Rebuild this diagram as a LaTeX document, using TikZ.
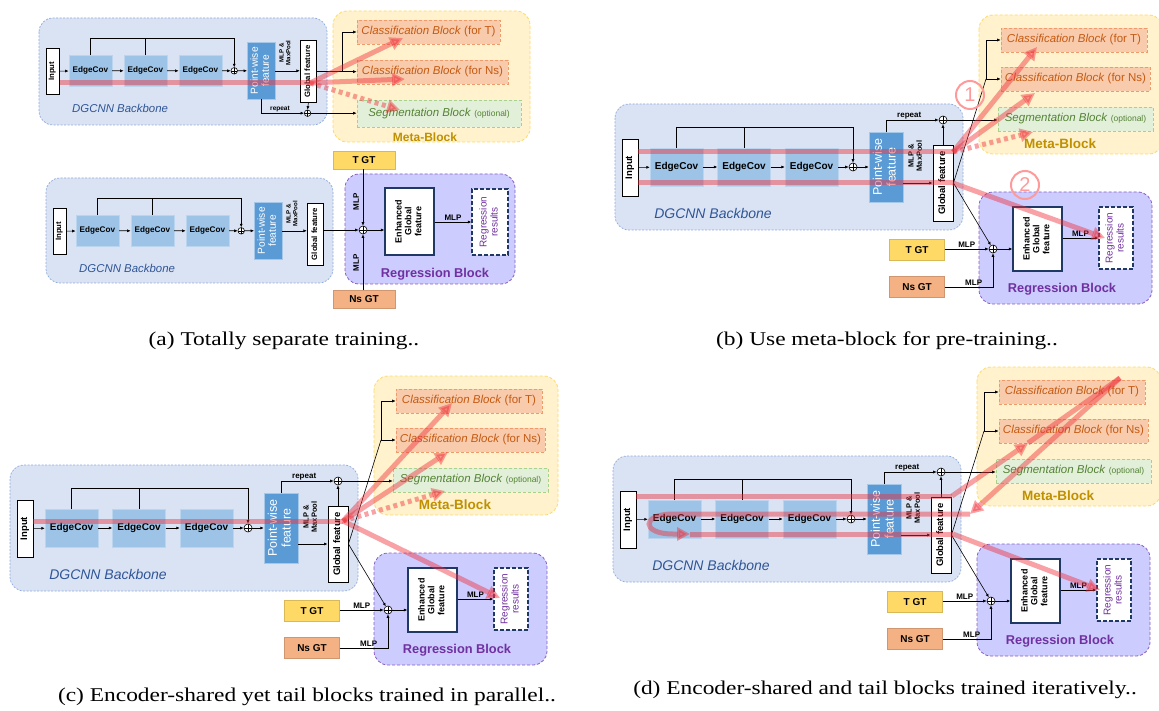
\documentclass[tikz,border=0pt]{standalone}
\usepackage{fontspec}
\setmainfont{Liberation Serif}
\setsansfont{Liberation Sans}
\usepackage{graphicx}
\usepackage{xcolor}
\definecolor{bbfill}{HTML}{DAE3F3}
\definecolor{bbline}{HTML}{8FAADC}
\definecolor{bbtext}{HTML}{2F5597}
\definecolor{ecfill}{HTML}{9DC3E6}
\definecolor{pwfill}{HTML}{5B9BD5}
\definecolor{metafill}{HTML}{FFF2CC}
\definecolor{metaline}{HTML}{FFD966}
\definecolor{metatext}{HTML}{BF9000}
\definecolor{cbfill}{HTML}{F8CBAD}
\definecolor{cbline}{HTML}{EE9A6A}
\definecolor{cbtext}{HTML}{C55A11}
\definecolor{segfill}{HTML}{E2F0D9}
\definecolor{segline}{HTML}{A9D18E}
\definecolor{segtext}{HTML}{548235}
\definecolor{regfill}{HTML}{CCCCFF}
\definecolor{regline}{HTML}{8A5CC4}
\definecolor{regtext}{HTML}{7030A0}
\definecolor{navy}{HTML}{1F3864}
\definecolor{tgtfill}{HTML}{FFD966}
\definecolor{ngtfill}{HTML}{F4B183}
\definecolor{flow}{HTML}{F0303A}
\definecolor{stepring}{HTML}{FF9A9A}
\usepackage{tikz}
\usetikzlibrary{positioning,arrows.meta,calc}
\newcommand{\fsz}[1]{\fontsize{#1}{#1}\selectfont}
\newcommand{\vtext}[1]{\rotatebox{90}{\renewcommand{\arraystretch}{1.1}\begin{tabular}{@{}c@{}}#1\end{tabular}}}
\tikzset{
  bbarea/.style  ={draw=bbline, fill=bbfill, dash pattern=on 2pt off 1.5pt, line width=0.7pt, rounded corners=14pt},
  metaarea/.style={draw=metaline, fill=metafill, dash pattern=on 3pt off 2pt, line width=0.8pt, rounded corners=14pt},
  regarea/.style ={draw=regline, fill=regfill, dash pattern=on 3pt off 2pt, line width=0.8pt, rounded corners=14pt},
  inbox/.style   ={draw=black, fill=white, line width=0.9pt, inner sep=0pt, minimum width=16pt,
                   minimum height=57pt, font=\sffamily\bfseries\fsz{9.5}},
  ecbox/.style   ={fill=ecfill, draw=ecfill!70!white, inner sep=0pt, minimum width=53pt,
                   minimum height=38pt, font=\sffamily\bfseries\fsz{10}},
  pwbox/.style   ={fill=pwfill, draw=pwfill!55!white, inner sep=0pt, minimum width=34pt,
                   minimum height=70pt, text=white, font=\sffamily\fsz{12.5}},
  gfbox/.style   ={draw=black, fill=white, line width=0.9pt, inner sep=0pt, minimum width=20pt,
                   minimum height=76pt, font=\sffamily\bfseries\fsz{9.5}},
  sumnode/.style ={circle, draw=black, fill=white, line width=0.6pt, inner sep=0pt, minimum size=8pt,
                   path picture={\draw[line width=0.6pt] (path picture bounding box.north) -- (path picture bounding box.south)
                   (path picture bounding box.west) -- (path picture bounding box.east);}},
  cbbox/.style   ={draw=cbline, fill=cbfill, dash pattern=on 3pt off 2pt, line width=0.6pt, inner sep=0pt,
                   minimum height=24pt, text=cbtext, font=\sffamily\fsz{11.5}},
  segbox/.style  ={draw=segline, fill=segfill, dash pattern=on 3pt off 2pt, line width=0.6pt, inner sep=0pt,
                   minimum height=24pt, text=segtext, font=\sffamily\fsz{11.5}},
  egfbox/.style  ={draw=navy, fill=white, line width=1.3pt, inner sep=0pt, minimum width=49pt,
                   minimum height=64pt, font=\sffamily\bfseries\fsz{9}},
  rrbox/.style   ={draw=navy, fill=white, line width=1.3pt, dash pattern=on 4pt off 2pt, inner sep=0pt,
                   minimum width=34pt, minimum height=62pt, text=regtext, font=\sffamily\fsz{10}},
  tgtbox/.style  ={fill=tgtfill, draw=tgtfill!85!black, line width=0.4pt, inner sep=0pt, minimum width=55pt,
                   minimum height=21pt, font=\sffamily\bfseries\fsz{10}},
  ngtbox/.style  ={tgtbox, fill=ngtfill, draw=ngtfill!85!black},
  arr/.style     ={-{Latex[length=3.5pt,width=3pt]}, line width=0.6pt},
  wire/.style    ={line width=0.6pt},
  lbl/.style     ={font=\sffamily\bfseries\fsz{8}, inner sep=1pt},
  poollbl/.style ={font=\sffamily\bfseries\fsz{7.5}, inner sep=0pt},
  bblbl/.style   ={text=bbtext, font=\sffamily\itshape\fsz{14}},
  metalbl/.style ={text=metatext, font=\sffamily\bfseries\fsz{13.5}},
  reglbl/.style  ={text=regtext, font=\sffamily\bfseries\fsz{12.8}},
  flowline/.style={draw=flow, opacity=0.45, line width=5pt},
  flowarr/.style ={flowline, -{Triangle[length=13pt,width=13pt]}},
  flowdot/.style ={flowarr, dash pattern=on 4pt off 3.5pt},
  stepmark/.style={circle, draw=stepring, line width=2pt, text=stepring, minimum size=28pt, inner sep=0pt,
                   font=\sffamily\fsz{20}},
  subcap/.style  ={font=\rmfamily\fsz{19.5}, xscale=1.2},
}
\newcommand{\backbone}[1]{
  \node[inbox] (#1in) at (25,528.5) {\vtext{Input}};
  \node[ecbox] (#1ec1) at (71.5,528) {EdgeCov};
  \node[ecbox] (#1ec2) at (139,528) {EdgeCov};
  \node[ecbox] (#1ec3) at (206.5,528) {EdgeCov};
  \node[sumnode] (#1sum) at (248,528) {};
  \node[pwbox] (#1pw) at (281,528) {\vtext{Point-wise\\feature}};
  \coordinate (#1skip) at (248,488);
  \draw[arr] (#1in) -- (#1ec1);
  \draw[arr] (#1ec1) -- (#1ec2);
  \draw[arr] (#1ec2) -- (#1ec3);
  \draw[arr] (#1ec3) -- (#1sum);
  \draw[arr] (#1sum) -- (#1pw);
  \draw[wire] (#1ec1.north) |- (#1skip);
  \draw[wire] (#1ec2.north) -- (#1ec2.north |- #1skip);
  \draw[arr] (#1skip) -- (#1sum.north);
  \node[bblbl] (#1bbname) at (108,574) {DGCNN Backbone};
}
\newcommand{\fullpanel}[1]{
  \draw[bbarea] (10,465) rectangle (358,591);
  \draw[metaarea] (374,376) rectangle (558,515);
  \draw[regarea] (374,553) rectangle (547,665);
  \backbone{#1}
  \node[gfbox] (#1gf) at (338,544) {\vtext{Global feature}};
  \draw[arr] (#1pw.east |- #1gf.west) -- (#1gf.west);
  \node[poollbl] (#1pool) at (311,517) {\vtext{MLP \&\\MaxPool}};
  \node[sumnode] (#1rep) at (338,481) {};
  \draw[arr] (#1gf.north) -- (#1rep.south);
  \draw[arr] (#1pw.north) |- (#1rep.west) node[lbl, pos=0.72, above] (#1replbl) {repeat};
  \node[cbbox, minimum width=146pt] (#1cbt) at (469,401) {\textit{Classification Block} (for T)};
  \node[cbbox, minimum width=149pt] (#1cbn) at (470.5,440) {\textit{Classification Block} (for Ns)};
  \node[segbox, minimum width=155pt] (#1seg) at (470.5,480) {\textit{Segmentation Block} {\fsz{8.5}(optional)}};
  \node[metalbl] (#1metalbl) at (455,505) {Meta-Block};
  \draw[arr] (#1rep.east) -- (#1rep -| #1seg.west);
  \coordinate (#1fork) at (381,440);
  \draw[wire] (#1gf.east) -- (#1fork);
  \draw[arr] (#1fork) -- (#1cbn.west);
  \draw[arr] (#1fork) |- (#1cbt.west);
  \node[sumnode] (#1add) at (388,610) {};
  \node[tgtbox] (#1tgt) at (312,611) {T GT};
  \node[ngtbox] (#1ngt) at (312,648) {Ns GT};
  \node[egfbox] (#1egf) at (432.5,600) {\vtext{Enhanced\\Global\\feature}};
  \node[rrbox] (#1rr) at (511,599) {\vtext{Regression\\results}};
  \draw[arr] (#1gf.east) -- (#1add);
  \draw[arr] (#1tgt.east |- #1add) -- (#1add.west) node[lbl, midway, above] (#1mlp1) {MLP};
  \draw[arr] (#1ngt.east) -| (#1add.south) node[lbl, pos=0.3, above] (#1mlp2) {MLP};
  \draw[arr] (#1add.east) -- (#1add -| #1egf.west);
  \draw[arr] (#1egf.east |- #1rr.west) -- (#1rr.west) node[lbl, midway, above] (#1mlp3) {MLP};
  \node[reglbl] (#1reglbl) at (457,650) {Regression Block};
}

\begin{document}
\begin{tikzpicture}[x=1pt, y=-1pt]
  \useasboundingbox (0,0) rectangle (1159,711);

  % (a) top
  \draw[bbarea] (39,18) rectangle (327,125);
  \draw[metaarea] (333,11) rectangle (530,142);
  \begin{scope}[shift={(32.1,-359.5)}, scale=0.815, transform shape]
    \backbone{a1}
    \node[gfbox] (a1gf) at (339,529) {\vtext{Global feature}};
    \draw[arr] (a1pw.east) -- (a1pw.east -| a1gf.west);
    \node[poollbl] (a1pool) at (311,506) {\vtext{MLP \&\\MaxPool}};
    \node[sumnode] (a1rep) at (338,580) {};
    \draw[arr] (a1gf.south) -- (a1rep.north);
    \draw[arr] (a1pw.south) |- (a1rep.west) node[lbl, pos=0.72, above] (a1replbl) {repeat};
  \end{scope}
  \node[cbbox, minimum width=143pt] (a1cbt) at (428.5,32) {\textit{Classification Block} (for T)};
  \node[cbbox, minimum width=151pt] (a1cbn) at (432.5,72) {\textit{Classification Block} (for Ns)};
  \node[segbox, minimum width=164pt, minimum height=27pt] (a1seg) at (439,113.5) {\textit{Segmentation Block} {\fsz{8.5}(optional)}};
  \node[metalbl, font=\sffamily\bfseries\fsz{12}] (a1metalbl) at (425,137) {Meta-Block};
  \draw[arr] (a1rep.east) -- (a1rep -| a1seg.west);
  \draw[arr] (a1gf.east) -- (a1gf.east -| a1cbn.west);
  \draw[arr] (a1gf.east) ++(25,0) |- (a1cbt.west);
  \coordinate (a1r0) at (60,83);
  \coordinate (a1r1) at (310,83);
  \draw[flowline] (a1r0) -- (a1r1);
  \draw[flowarr] (a1r1) -- (403,38);
  \draw[flowarr] (a1r1) -- (405,79);
  \draw[flowdot] (a1r1) -- (400,110);

  % (a) bottom
  \draw[bbarea] (46,178) rectangle (333,283);
  \draw[regarea] (345,174) rectangle (515,284);
  \begin{scope}[shift={(39.1,-199.5)}, scale=0.815, transform shape]
    \backbone{a2}
    \node[gfbox] (a2gf) at (339,532) {\vtext{Global feature}};
    \draw[arr] (a2pw.east) -- (a2pw.east -| a2gf.west);
    \node[poollbl] (a2pool) at (311,507) {\vtext{MLP \&\\MaxPool}};
  \end{scope}
  \node[tgtbox, minimum width=62pt, minimum height=18pt] (a2tgt) at (364,160) {T GT};
  \node[ngtbox, minimum width=62pt, minimum height=18pt] (a2ngt) at (364,299) {Ns GT};
  \node[sumnode] (a2add) at (363,230) {};
  \node[egfbox, minimum height=67pt] (a2egf) at (409.5,221.5) {\vtext{Enhanced\\Global\\feature}};
  \node[rrbox, minimum width=36pt, minimum height=66pt] (a2rr) at (490,222) {\vtext{Regression\\results}};
  \draw[arr] (a2add |- a2tgt.south) -- (a2add.north);
  \draw[arr] (a2add |- a2ngt.north) -- (a2add.south);
  \draw[arr] (a2gf.east |- a2add) -- (a2add.west);
  \draw[arr] (a2add.east) -- (a2add -| a2egf.west);
  \draw[arr] (a2egf.east |- a2rr.west) -- (a2rr.west) node[lbl, midway, above] (a2mlp3) {MLP};
  \node[lbl, rotate=90] (a2mlp1) at (356,202) {MLP};
  \node[lbl, rotate=90] (a2mlp2) at (356,263) {MLP};
  \node[reglbl] (a2reglbl) at (435,274) {Regression Block};

  % (b)
  \begin{scope}[shift={(605,-361)}]
    \fullpanel{b}
    \coordinate (br0) at (33,513);
    \coordinate (br1) at (348,513);
    \coordinate (br2) at (33,544);
    \coordinate (br3) at (348,544);
    \draw[flowline] (br0) -- (br1);
    \draw[flowarr] (br1) -- (432,408);
    \draw[flowarr] (br1) -- (430,454);
    \draw[flowdot] (br1) -- (428,493);
    \draw[flowline] (br2) -- (br3);
    \draw[flowarr] (br3) -- (500,599);
    \node[stepmark] (bstep1) at (365,456) {1};
    \node[stepmark] (bstep2) at (420,546) {2};
  \end{scope}

  % (c)
  \fullpanel{c}
  \coordinate (cr0) at (33,521);
  \coordinate (cr1) at (343,521);
  \draw[flowline] (cr0) -- (cr1);
  \draw[flowarr] (cr1) -- (452,403);
  \draw[flowarr] (cr1) -- (448,452);
  \draw[flowdot] (cr1) -- (445,491);
  \draw[flowarr] (cr1) -- (500,598);

  % (d)
  \begin{scope}[shift={(603,-9)}]
    \fullpanel{d}
    \coordinate (dr0) at (33,505);
    \coordinate (dr1) at (349,505);
    \coordinate (drm) at (425,452);
    \coordinate (drt) at (517,387);
    \coordinate (drb) at (367,523);
    \coordinate (drl) at (87,543);
    \coordinate (drg) at (350,543);
    \draw[flowline] (dr0) -- (dr1);
    \draw[flowarr] (dr1) -- (drm);
    \draw[flowline] (drm) -- (drt);
    \draw[flowarr] (drt) -- (drb);
    \draw[flowarr] (drb) -- (70,523) .. controls (38,523) and (38,543) .. (70,543) -- (drl);
    \draw[flowline] (drl) -- (drg);
    \draw[flowarr] (drg) -- (497,599);
  \end{scope}

  \node[subcap] (capa) at (284,341) {(a) Totally separate training..};
  \node[subcap] (capb) at (887,341) {(b) Use meta-block for pre-training..};
  \node[subcap] (capc) at (307,697) {(c) Encoder-shared yet tail blocks trained in parallel..};
  \node[subcap] (capd) at (885,690) {(d) Encoder-shared and tail blocks trained iteratively..};
\end{tikzpicture}
\end{document}
